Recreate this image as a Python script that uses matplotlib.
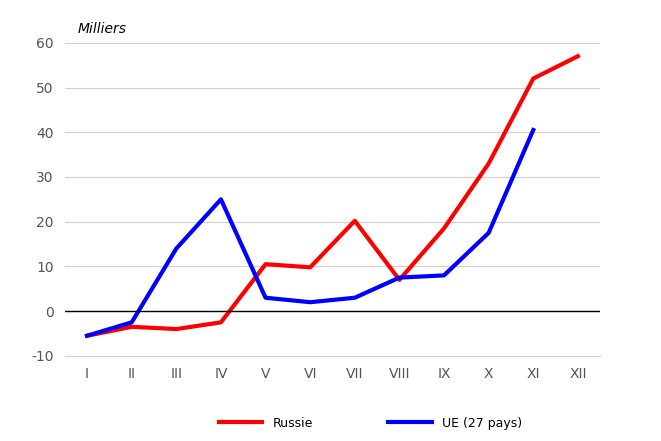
import matplotlib
matplotlib.use('Agg')
import matplotlib.pyplot as plt

plt.rcParams["axes.unicode_minus"] = False

months = ["I", "II", "III", "IV", "V", "VI", "VII", "VIII", "IX", "X", "XI", "XII"]
russie = [-5.5, -3.5, -4.0, -2.5, 10.5, 9.8, 20.2, 7.0, 18.5, 33.0, 52.0, 57.0]
ue27 = [-5.5, -2.5, 14.0, 25.0, 3.0, 2.0, 3.0, 7.5, 8.0, 17.5, 40.5]
yticks = [-10, 0, 10, 20, 30, 40, 50, 60]

fig = plt.figure(figsize=(6.61, 4.41), dpi=100)
ax = fig.add_axes([0.098, 0.193, 0.81, 0.71])

x = list(range(len(months)))
ax.plot(x, russie, color="#ff0000", linewidth=3, label="Russie")
ax.plot(x[:len(ue27)], ue27, color="#0000ff", linewidth=3, label="UE (27 pays)")

ax.set_xlim(-0.5, len(months) - 0.5)
ax.set_ylim(-10, 60)
ax.set_yticks(yticks)
ax.set_xticks(x)
ax.set_xticklabels(months)
ax.grid(axis="y", color="#d0d0d0", linewidth=0.8)
ax.set_axisbelow(True)
ax.axhline(0, color="black", linewidth=1)
for s in ["top", "right", "left"]:
    ax.spines[s].set_visible(False)
ax.spines["bottom"].set_color("#d0d0d0")
ax.tick_params(length=0, colors="#555555", labelsize=10, pad=8)

fig.text(0.118, 0.925, "Milliers", fontstyle="italic", fontsize=10)
fig.legend(loc="lower center", ncol=2, frameon=False, fontsize=9,
           bbox_to_anchor=(0.56, 0.0), columnspacing=6, handlelength=3.5)

plt.savefig("out.png", dpi=100)
plt.close()
